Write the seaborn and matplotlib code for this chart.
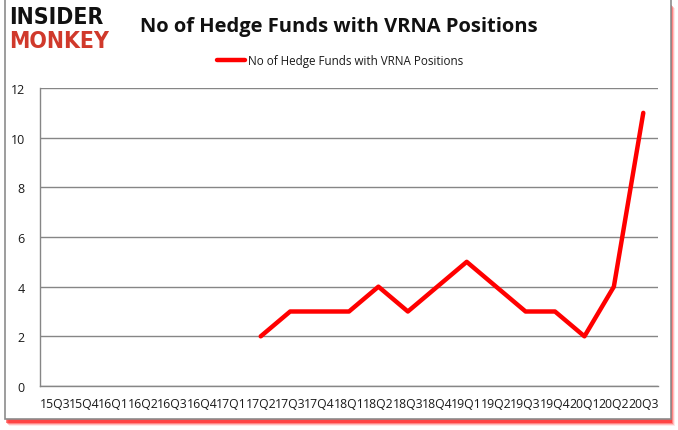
import matplotlib
matplotlib.use("Agg")
import matplotlib.pyplot as plt
import seaborn as sns
import pandas as pd
import numpy as np
from matplotlib.patches import Rectangle

quarters = ["15Q3", "15Q4", "16Q1", "16Q2", "16Q3", "16Q4", "17Q1", "17Q2", "17Q3",
            "17Q4", "18Q1", "18Q2", "18Q3", "18Q4", "19Q1", "19Q2", "19Q3", "19Q4",
            "20Q1", "20Q2", "20Q3"]
funds = [np.nan, np.nan, np.nan, np.nan, np.nan, np.nan, np.nan, 2, 3,
         3, 3, 4, 3, 4, 5, 4, 3, 3,
         2, 4, 11]
series_name = "No of Hedge Funds with VRNA Positions"
title = "No of Hedge Funds with VRNA Positions"

sns.set_theme(style="white")
plt.rcParams['font.family'] = ['Open Sans', 'DejaVu Sans']

W, H = 678, 431
fig = plt.figure(figsize=(W / 100, H / 100), dpi=100)
fig.patch.set_facecolor("white")

# frame with red shadow
for i, a in enumerate([0.15, 0.3, 0.5, 0.8]):
    off = 4 - i
    fig.patches.append(Rectangle(((5 + off) / W, (H - 420 - off - 3) / H), 666 / W, 418 / H,
                                 transform=fig.transFigure, facecolor=(1, 0, 0, a * 0.6),
                                 edgecolor="none", zorder=0))
fig.patches.append(Rectangle((5 / W, (H - 420) / H), 666 / W, 420 / H,
                             transform=fig.transFigure, facecolor="white",
                             edgecolor="#8c8c8c", linewidth=1.2, zorder=1))

ax = fig.add_axes([40 / W, 1 - 387 / H, 618 / W, 298 / H])
ax.set_zorder(2)
df = pd.DataFrame({"quarter": quarters, "funds": funds, "x": np.arange(len(quarters))})
sns.lineplot(data=df, x="x", y="funds", ax=ax, color="#ff0000", linewidth=3.2,
             label=series_name, legend=False)

ax.set_xlim(-0.5, len(quarters) - 0.5)
ax.set_ylim(0, 12)
ax.set_yticks(range(0, 13, 2))
ax.set_xticks(np.arange(len(quarters)))
ax.set_xticklabels(quarters)
ax.set_xticks(np.arange(len(quarters) + 1) - 0.5, minor=True)
ax.tick_params(axis="x", which="major", length=0, pad=8, labelsize=8.8, colors="#1a1a1a")
ax.tick_params(axis="x", which="minor", length=5, width=1, color="#868686", direction="out")
ax.tick_params(axis="y", length=5, width=1, color="#868686", direction="out",
               labelsize=9, colors="#1a1a1a", pad=6)
ax.yaxis.grid(True, color="#868686", linewidth=1)
ax.xaxis.grid(False)
for s in ["top", "right"]:
    ax.spines[s].set_visible(False)
for s in ["left", "bottom"]:
    ax.spines[s].set_color("#868686")
    ax.spines[s].set_linewidth(1)
ax.set_xlabel("")
ax.set_ylabel("")
ax.set_facecolor("white")
ax.patch.set_alpha(0)

# title and legend
fig.text(339 / W, 1 - 27 / H, title, ha="center", va="center", fontsize=14.5,
         fontweight="bold", color="#111111", family=["Open Sans", "DejaVu Sans"], zorder=3)
fig.lines.append(plt.Line2D([217 / W, 245 / W], [1 - 61 / H, 1 - 61 / H],
                            transform=fig.transFigure, color="#ff0000", linewidth=3.2, zorder=3))
fig.text(248 / W, 1 - 61 / H, series_name, ha="left", va="center", fontsize=8.4,
         color="#1a1a1a", zorder=3)

# logo
fig.text(9 / W, 1 - 18 / H, "INSIDER", ha="left", va="center", fontsize=16.5,
         fontweight="heavy", fontstretch="condensed", color="#111111",
         family=["DejaVu Sans"], zorder=3)
fig.text(9 / W, 1 - 42 / H, "MONKEY", ha="left", va="center", fontsize=16.5,
         fontweight="heavy", fontstretch="condensed", color="#d0392b",
         family=["DejaVu Sans"], zorder=3)

fig.savefig("out.png", dpi=100, facecolor="white")
